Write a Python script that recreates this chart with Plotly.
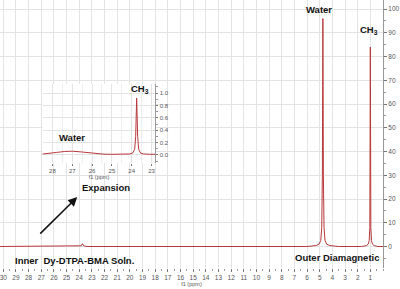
import plotly.graph_objects as go

# Main spectrum (ppm, intensity)
main_ppm = [30.3, 24.1, 23.85, 23.75, 23.65, 23.4, 6.0, 5.3, 5.05, 4.92, 4.84, 4.79, 4.75, 4.71, 4.66, 4.58, 4.45, 4.2, 3.5,
            1.7, 1.3, 1.17, 1.09, 1.04, 1.0, 0.96, 0.91, 0.83, 0.7, 0.4, 0.0]
main_int = [0.0, 0.0, 0.3, 1.2, 0.3, 0.0, 0.0, 0.4, 1.0, 2.5, 8.0, 30.0, 96.0, 30.0, 8.0, 2.5, 1.0, 0.4, 0.0,
            0.0, 0.4, 1.0, 2.5, 8.0, 84.0, 8.0, 2.5, 1.0, 0.4, 0.0, 0.0]

# Inset (expansion) spectrum
ins_ppm = [28.6, 28.2, 27.8, 27.4, 27.0, 26.6, 26.2, 25.8, 25.4, 25.0, 24.5, 24.1, 23.95, 23.85, 23.8, 23.75, 23.7,
           23.65, 23.55, 23.4, 23.1, 22.7]
ins_int = [0.01, 0.02, 0.04, 0.055, 0.06, 0.05, 0.035, 0.02, 0.012, 0.01, 0.01, 0.015, 0.03, 0.09, 0.3, 0.92, 0.3,
           0.09, 0.03, 0.015, 0.01, 0.01]

main_xticks = [30, 29, 28, 27, 26, 25, 24, 23, 22, 21, 20, 19, 18, 17, 16, 15, 14, 13, 12, 11, 10,
               9, 8, 7, 6, 5, 4, 3, 2, 1]
main_yticks = [0, 10, 20, 30, 40, 50, 60, 70, 80, 90, 100]
ins_yticks = [0.0, 0.2, 0.4, 0.6, 0.8, 1.0]

LINE = "#b8393c"
GRID = "#e3e3e3"
TICKC = "#555555"
FONT = "Liberation Sans, Arial, sans-serif"

fig = go.Figure()
fig.add_trace(go.Scatter(x=main_ppm, y=main_int, mode="lines", line=dict(color=LINE, width=1),
                         xaxis="x", yaxis="y", showlegend=False, hoverinfo="skip"))
fig.add_trace(go.Scatter(x=ins_ppm, y=ins_int, mode="lines", line=dict(color=LINE, width=1),
                         xaxis="x2", yaxis="y2", showlegend=False, hoverinfo="skip"))

fig.update_layout(
    width=400, height=289,
    margin=dict(l=0, r=13, t=0, b=21),
    paper_bgcolor="white", plot_bgcolor="white",
    font=dict(family=FONT, color="#222"),
    xaxis=dict(range=[30.26, 0.0], tickvals=main_xticks, ticks="outside", ticklen=3, tickcolor="#777",
               tickfont=dict(size=6.5, color=TICKC), showgrid=True, gridcolor=GRID, gridwidth=1,
               zeroline=False, showline=False, ticklabeloverflow="allow",
               minor=dict(dtick=0.5, ticks="outside", ticklen=2, tickcolor="#999", showgrid=False),
               title=dict(text="f1 (ppm)", font=dict(size=5.5, color=TICKC), standoff=0)),
    yaxis=dict(range=[-9.05, 103.8], side="right", tickvals=main_yticks, ticks="outside", ticklen=3,
               tickcolor="#777", tickfont=dict(size=6.5, color=TICKC), showgrid=True, gridcolor=GRID,
               zeroline=False, showline=True, linecolor="#999", linewidth=1,
               minor=dict(dtick=5, ticks="outside", ticklen=2, tickcolor="#999", showgrid=False)),
    xaxis2=dict(domain=[0.111, 0.406], anchor="y2", range=[28.5, 22.8], tick0=0, dtick=1,
                ticks="outside", ticklen=2, tickcolor="#777", tickfont=dict(size=6, color=TICKC),
                showgrid=True, gridcolor=GRID, zeroline=False, showline=False,
                minor=dict(dtick=0.5, showgrid=True, gridcolor="#eeeeee", ticks=""),
                title=dict(text="f1 (ppm)", font=dict(size=5.5, color=TICKC), standoff=0)),
    yaxis2=dict(domain=[0.392, 0.687], anchor="x2", side="right", range=[-0.13, 1.15],
                tickvals=ins_yticks, tickformat=".1f", ticks="outside", ticklen=2, tickcolor="#777",
                tickfont=dict(size=6, color=TICKC), showgrid=True, gridcolor=GRID, zeroline=False,
                showline=True, linecolor="#999", linewidth=1,
                minor=dict(dtick=0.1, ticks="outside", ticklen=1.5, tickcolor="#999", showgrid=False)),
)

bold = dict(family=FONT, size=9.5, color="#111")
anns = [
    dict(x=5.08, y=99.6, xref="x", yref="y", text="<b>Water</b>"),
    dict(x=1.08, y=91, xref="x", yref="y", text="<b>CH<sub>3</sub></b>"),
    dict(x=27.0, y=0.29, xref="x2", yref="y2", text="<b>Water</b>"),
    dict(x=23.6, y=1.06, xref="x2", yref="y2", text="<b>CH<sub>3</sub></b>"),
    dict(x=21.9, y=25, xref="x", yref="y", text="<b>Expansion</b>"),
    dict(x=24.4, y=-5.7, xref="x", yref="y", text="<b>Inner\u00a0 Dy-DTPA-BMA Soln.</b>"),
    dict(x=3.6, y=-4.8, xref="x", yref="y", text="<b>Outer Diamagnetic</b>"),
]
for a in anns:
    fig.add_annotation(showarrow=False, font=bold, **a)

fig.add_annotation(x=24.16, y=20.8, xref="x", yref="y", ax=27.2, ay=4.8, axref="x", ayref="y",
                   text="", showarrow=True, arrowhead=2, arrowsize=1.2, arrowwidth=1.5, arrowcolor="#111")

fig.write_html("out.html", config={"displayModeBar": False},
               post_script="document.body.style.margin='0';document.body.style.overflow='hidden';")
